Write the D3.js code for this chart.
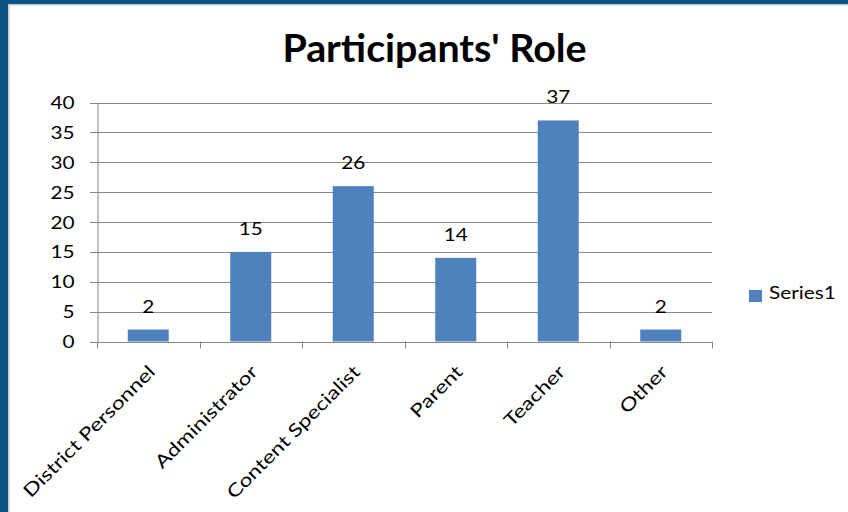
<!DOCTYPE html>
<html><head><meta charset="utf-8">
<script src="https://cdn.jsdelivr.net/npm/d3@7"></script>
<style>body{margin:0;background:#fff}svg{display:block}</style>
</head><body>
<svg id="c" width="848" height="512"></svg>
<script>
const categories = ["District Personnel","Administrator","Content Specialist","Parent","Teacher","Other"];
const series1 = [2, 15, 26, 14, 37, 2];
const yTicks = [0,5,10,15,20,25,30,35,40];
const seriesName = "Series1";
const title = "Participants' Role";

const svg = d3.select("#c");
const font = "Lato, 'Open Sans', sans-serif";
const SX = 1.26; // horizontal stretch of the original rendering
// frame
svg.append("rect").attr("x",0).attr("y",0).attr("width",848).attr("height",512).attr("fill","#fff");
svg.append("rect").attr("x",0).attr("y",0).attr("width",848).attr("height",4).attr("fill","#0b5585");
svg.append("rect").attr("x",0).attr("y",0).attr("width",8).attr("height",512).attr("fill","#0b5585");
svg.append("rect").attr("x",8).attr("y",4).attr("width",840).attr("height",1.5).attr("fill","#c8c8c8");
svg.append("rect").attr("x",8).attr("y",4).attr("width",1.5).attr("height",508).attr("fill","#c8c8c8");

const L=97, R=712, T=102.5, B=341.5;
const x = d3.scaleBand().domain(categories).range([L,R]).paddingInner(0.6).paddingOuter(0.3);
const y = d3.scaleLinear().domain([0,40]).range([B,T]);

// gridlines
svg.append("g").selectAll("line").data(yTicks).join("line")
  .attr("x1",90).attr("x2",R).attr("y1",d=>Math.round(y(d))+0.5).attr("y2",d=>Math.round(y(d))+0.5)
  .attr("stroke","#878787").attr("stroke-width",1);

// y axis line
const ya = svg.append("g").attr("transform",`translate(${L+0.5},0)`)
  .call(d3.axisLeft(y).tickValues(yTicks).tickSize(0).tickFormat(""));
ya.select(".domain").attr("stroke","#878787");
// y tick labels
svg.append("g").selectAll("text").data(yTicks).join("text")
  .attr("transform",d=>`translate(74.5,${y(d)+6.5}) scale(${SX},1)`)
  .attr("text-anchor","end").attr("font-family",font).attr("font-size",16.5).attr("fill","#000").text(d=>d);

// bars
svg.append("g").selectAll("rect").data(series1).join("rect")
  .attr("x",(d,i)=>x(categories[i])).attr("width",x.bandwidth())
  .attr("y",d=>y(d)).attr("height",d=>y(0)-y(d)).attr("fill","#4f81bd");

// x axis
const step = x.step();
const bounds = d3.range(categories.length+1).map(i=>L+i*step);
svg.append("line").attr("x1",L).attr("x2",R).attr("y1",Math.round(B)+0.5).attr("y2",Math.round(B)+0.5).attr("stroke","#878787");
svg.append("g").selectAll("line").data(bounds).join("line")
  .attr("x1",d=>Math.round(d)+0.5).attr("x2",d=>Math.round(d)+0.5).attr("y1",B).attr("y2",B+7).attr("stroke","#878787");

// category labels
svg.append("g").selectAll("text").data(categories).join("text")
  .attr("transform",d=>`translate(${x(d)+x.bandwidth()/2+8},373) rotate(-45) scale(${SX},1)`)
  .attr("text-anchor","end").attr("font-family",font).attr("font-size",18).attr("fill","#000")
  .text(d=>d);

// data labels
svg.append("g").selectAll("text").data(series1).join("text")
  .attr("transform",(d,i)=>`translate(${x(categories[i])+x.bandwidth()/2},${y(d)-17}) scale(${SX},1)`)
  .attr("text-anchor","middle").attr("font-family",font).attr("font-size",16.5).attr("fill","#000").text(d=>d);

// title
svg.append("text").attr("transform","translate(434.5,62) scale(1.05,1)").attr("text-anchor","middle")
  .attr("font-family",font).attr("font-weight","bold").attr("font-size",37.5).attr("fill","#000").text(title);

// legend
svg.append("rect").attr("x",749).attr("y",290).attr("width",13).attr("height",12).attr("fill","#4f81bd");
svg.append("text").attr("transform",`translate(769,299) scale(${SX},1)`).attr("font-family",font).attr("font-size",16.5).attr("fill","#000").text(seriesName);
</script>
</body></html>
